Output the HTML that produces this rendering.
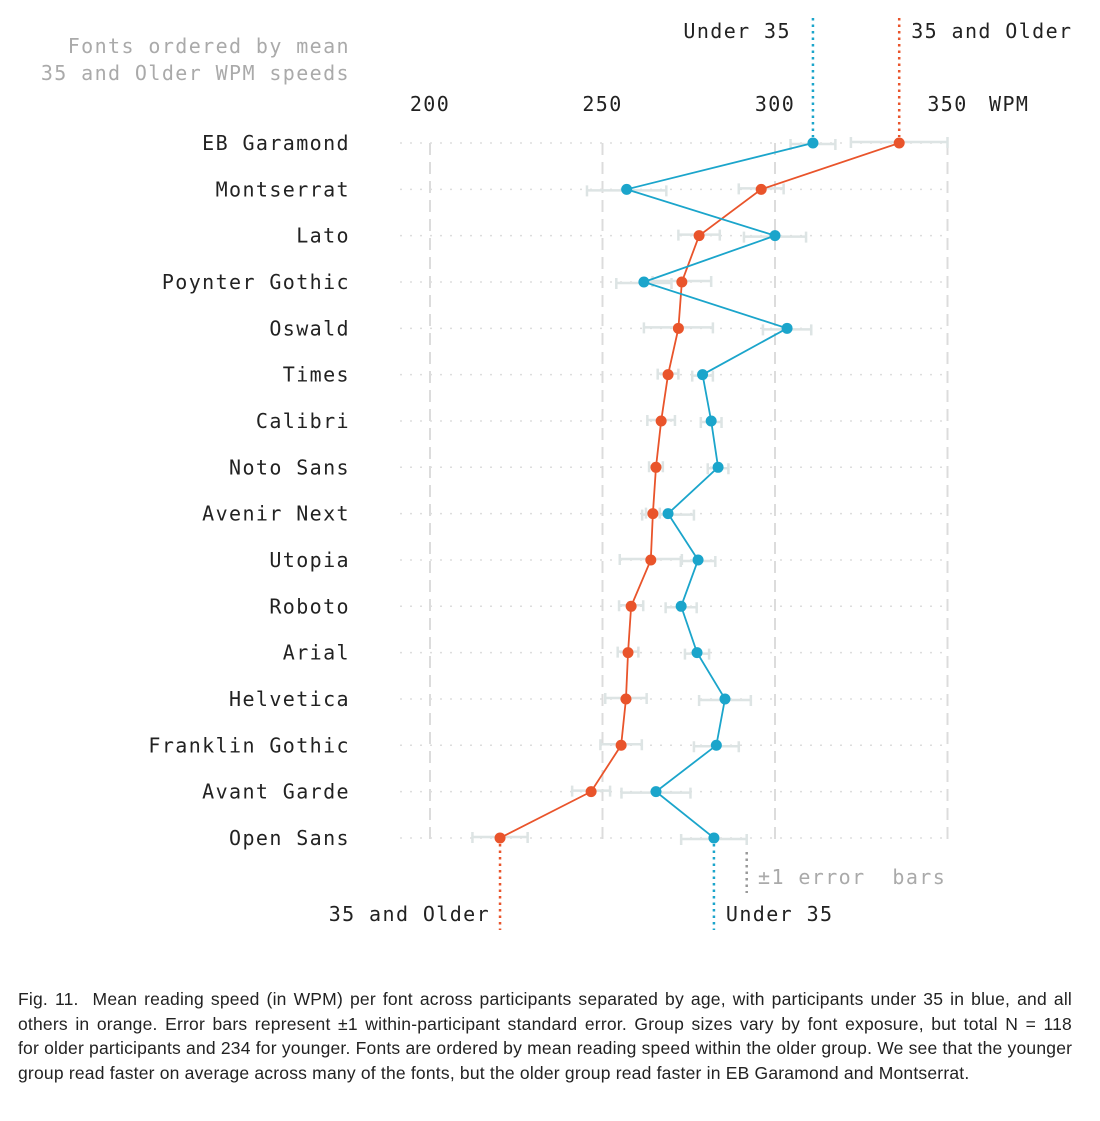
<!DOCTYPE html>
<html><head><meta charset="utf-8">
<style>
body{margin:0;background:#fff;width:1100px;height:1121px;overflow:hidden;}
#cap{position:absolute;left:18px;top:987px;width:1054px;font-family:"Liberation Sans",sans-serif;font-size:17.5px;line-height:24.6px;color:#222;white-space:nowrap;letter-spacing:0.2px;}
#cap span{display:block;}
#cap span.j{text-align:justify;text-align-last:justify;}
</style></head><body>
<svg id="chart" width="1100" height="980" style="position:absolute;left:0;top:0" font-family="'DejaVu Sans Mono','Liberation Mono',monospace" letter-spacing="1.4"></svg>
<div id="cap"><span class="j">Fig. 11.&nbsp; Mean reading speed (in WPM) per font across participants separated by age, with participants under 35 in blue, and all</span><span class="j">others in orange. Error bars represent ±1 within-participant standard error. Group sizes vary by font exposure, but total N = 118</span><span class="j">for older participants and 234 for younger. Fonts are ordered by mean reading speed within the older group. We see that the younger</span><span>group read faster on average across many of the fonts, but the older group read faster in EB Garamond and Montserrat.</span></div>
<script>
const fonts=["EB Garamond","Montserrat","Lato","Poynter Gothic","Oswald","Times","Calibri","Noto Sans","Avenir Next","Utopia","Roboto","Arial","Helvetica","Franklin Gothic","Avant Garde","Open Sans"];
const under35=[311,257,300,262,303.5,279,281.5,283.5,269,277.7,272.8,277.4,285.5,283,265.5,282.3];
const under35Err=[6.5,11.5,9,8,7,3,3,3,7.5,5,4.5,3.5,7.5,6.5,10,9.5];
const older=[336,296,278,273,272,269,267,265.5,264.6,264,258.3,257.4,256.8,255.4,246.7,220.3];
const olderErr=[14,6.5,6,8.5,10,3,4,2,2,9,3.5,3,6,6,5.5,8];
const ticks=[200,250,300,350];
const svg=document.getElementById('chart');
const NS='http://www.w3.org/2000/svg';
const x=v=>430+(v-200)*3.45;
const y=i=>143+i*46.33;
const BLUE='#1ba5cb',ORANGE='#e9542b',GRAY='#999';
function mk(t,a,parent){const e=document.createElementNS(NS,t);for(const k in a)e.setAttribute(k,a[k]);(parent||svg).appendChild(e);return e;}
ticks.forEach(t=>{
 const l=mk('line',{x1:x(t),x2:x(t),y1:143,y2:840,stroke:'#dcdcdc','stroke-width':2,'stroke-dasharray':'12,7'});
 
 
 const tx=mk('text',{x:x(t),y:111,'text-anchor':'middle','font-size':20,fill:'#222'});tx.textContent=t;
 
 
});
const w=mk('text',{x:989,y:111,'font-size':20,fill:'#222'});w.textContent='WPM';


fonts.forEach((f,i)=>{
 const g=mk('line',{x1:400,x2:947,y1:y(i),y2:y(i),stroke:'#ddd','stroke-width':1.5,'stroke-dasharray':'2,8'});
 
 
 const t=mk('text',{x:350,y:y(i)+7,'text-anchor':'end','font-size':20,fill:'#222'});t.textContent=f;
 
 
});
function errs(vals,errv,off){vals.forEach((v,i)=>{
 const yy=y(i)+off;
 const e=mk('path',{d:`M${x(v-errv[i])},${yy-5}V${yy+6}M${x(v-errv[i])},${yy}H${x(v+errv[i])}M${x(v+errv[i])},${yy-5}V${yy+6}`,stroke:'#dde4e4','stroke-width':2.5,fill:'none'});
 
 
});}
errs(under35,under35Err,1);errs(older,olderErr,-1);
function series(vals,col,name){
 const p=mk('polyline',{points:vals.map((v,i)=>x(v)+','+y(i)).join(' '),fill:'none',stroke:col,'stroke-width':1.8});
 
 
 vals.forEach((v,i)=>{const c=mk('circle',{cx:x(v),cy:y(i),r:5.5,fill:col});
 
 });
}
series(older,ORANGE,'older');series(under35,BLUE,'under35');
function dl(x1,y1,y2,col,n){const l=mk('line',{x1:x1,x2:x1,y1:y1,y2:y2,stroke:col,'stroke-width':2.5,'stroke-dasharray':'2.5,4'});
 
 }
function tx(s,xx,yy,anchor,col,n){const t=mk('text',{x:xx,y:yy,'text-anchor':anchor,'font-size':20,fill:col});t.textContent=s;
 
 }
dl(x(under35[0]),18,y(0)-6,BLUE,'under35-top-marker');
dl(x(older[0]),18,y(0)-6,ORANGE,'older-top-marker');
tx('Under 35',x(under35[0])-22,38,'end','#222','under35-top-label');
tx('35 and Older',x(older[0])+12,38,'start','#222','older-top-label');
dl(x(older[15]),y(15)+6,930,ORANGE,'older-bottom-marker');
dl(x(under35[15]),y(15)+6,930,BLUE,'under35-bottom-marker');
tx('35 and Older',x(older[15])-10,921,'end','#222','older-bottom-label');
tx('Under 35',x(under35[15])+12,921,'start','#222','under35-bottom-label');
dl(x(under35[15]+under35Err[15]),852,893,GRAY,'error-bar-marker');
const eb=mk('text',{x:758,y:884,'font-size':20,fill:'#aaa'});eb.textContent='±1 error  bars';
eb.setAttribute('style','white-space:pre');


tx('Fonts ordered by mean',350,53,'end','#aaa','ordering-note-line1');
tx('35 and Older WPM speeds',350,80,'end','#aaa','ordering-note-line2');
</script>
</body></html>
